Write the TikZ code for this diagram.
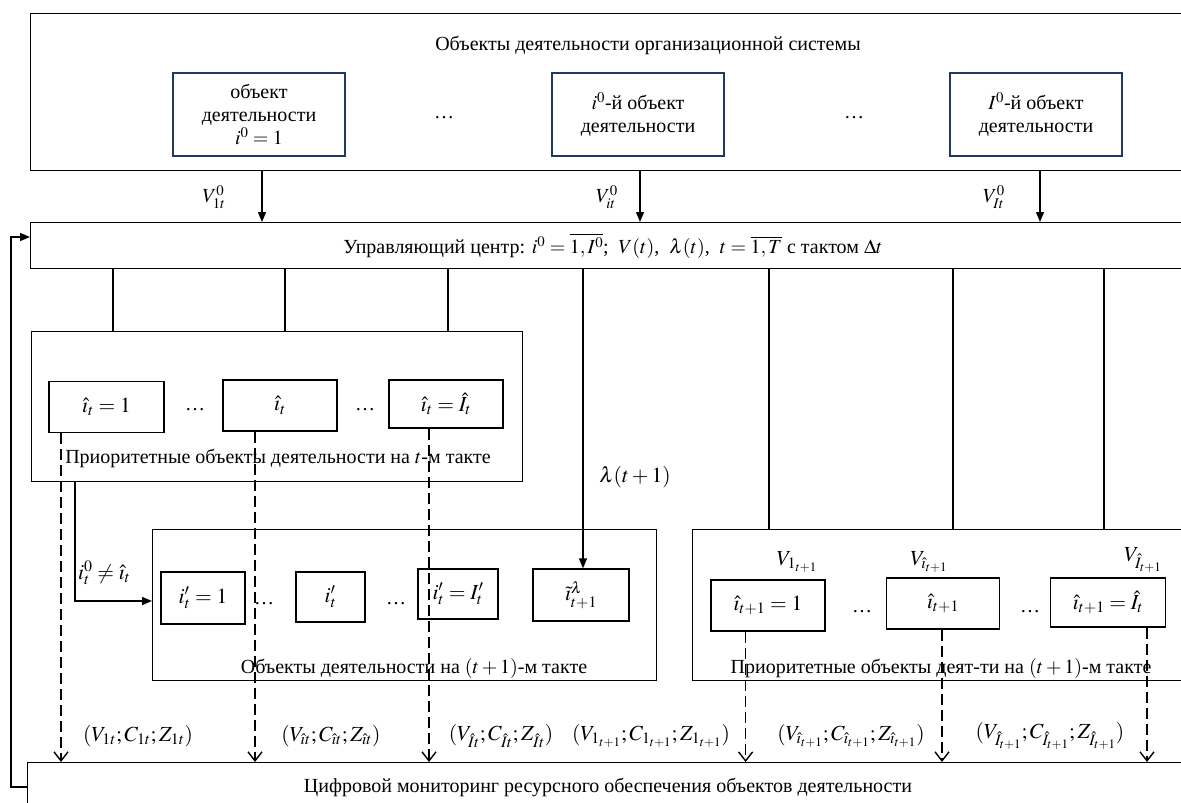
\documentclass[tikz,border=0pt]{standalone}
\usepackage{mathptmx}
\usepackage{fontspec}
\setmainfont{Liberation Serif}
\usetikzlibrary{arrows.meta,calc}
\definecolor{navy}{RGB}{31,56,100}
\begin{document}
\begin{tikzpicture}[x=1pt,y=-1pt,
  every node/.style={font=\fontsize{20}{23}\selectfont, inner sep=0pt},
  ms/.style={font=\fontsize{21.5}{24}\selectfont},
  box/.style={draw, line width=1.4pt, rectangle},
  nbox/.style={draw=navy, line width=1.4pt, rectangle, align=center, minimum width=172pt, minimum height=83pt},
  ibox/.style={draw, line width=1.4pt, rectangle, minimum height=51pt, ms},
  ln/.style={line width=1.4pt},
  arr/.style={line width=1.4pt, -{Triangle[length=10pt,width=8pt]}},
  darr/.style={line width=1.4pt, dash pattern=on 11pt off 5pt, -{Straight Barb[length=9pt,width=14pt]}},
]
\useasboundingbox (0,0) rectangle (1181,803);

% top block
\node[box, anchor=north west, minimum width=1165pt, minimum height=157pt] (top) at (30,13) {};
\node (title) at (648,45) {Объекты деятельности организационной системы};
\node[nbox] (b1) at (259,114.5) {объект\\деятельности\\$i^0=1$};
\node (d1) at (444,118) {\dots};
\node[nbox] (b2) at (638,114.5) {$i^0$-й объект\\деятельности};
\node (d2) at (854,118) {\dots};
\node[nbox] (b3) at (1036,114.5) {$I^0$-й объект\\деятельности};

% control center
\node[box, anchor=north west, minimum width=1165pt, minimum height=46pt] (ctrl) at (30,222) {};
\node (ctrlt) at (613,246) {Управляющий центр: $i^0=\overline{1,I^0}$;\ \ $V(t)$,\ \ $\lambda(t)$,\ \ $t=\overline{1,T}$ с тактом $\Delta t$};

\coordinate (x1) at (262,0);
\coordinate (x2) at (640,0);
\coordinate (x3) at (1040,0);
\draw[arr] (x1 |- top.south) -- (x1 |- ctrl.north);
\draw[arr] (x2 |- top.south) -- (x2 |- ctrl.north);
\draw[arr] (x3 |- top.south) -- (x3 |- ctrl.north);
\node (v1) at (214,197) {$V^0_{1t}$};
\node (v2) at (607,197) {$V^0_{it}$};
\node (v3) at (994,197) {$V^0_{It}$};

% monitoring
\node[box, anchor=north west, minimum width=1168pt, minimum height=55pt] (mon) at (27,762) {};
\node (mont) at (608,787) {Цифровой мониторинг ресурсного обеспечения объектов деятельности};

% feedback
\coordinate (fb) at (11,0);
\coordinate (fy1) at (0,787);
\coordinate (fy2) at (0,237);
\draw[arr] (mon.west |- fy1) -- (fb |- fy1) -- (fb |- fy2) -- (ctrl.west |- fy2);

% priority objects at t
\node[box, anchor=north west, minimum width=491pt, minimum height=150pt] (pr) at (30.6,331) {};
\node[ibox, minimum width=115pt] (pa) at (106.5,407) {$\hat{\imath}_t=1$};
\node (d3) at (195,410) {\dots};
\node[ibox, minimum width=114pt] (pb) at (280,405.5) {$\hat{\imath}_t$};
\node (d4) at (365,410) {\dots};
\node[ibox, minimum width=114pt, minimum height=48pt] (pc) at (446,404) {$\hat{\imath}_t=\hat{I}_t$};
\node (prt) at (278,458) {Приоритетные объекты деятельности на $t$-м такте};

\coordinate (c1) at (113,0);
\coordinate (c2) at (285,0);
\coordinate (c3) at (448,0);
\draw[ln] (c1 |- ctrl.south) -- (c1 |- pr.north);
\draw[ln] (c2 |- ctrl.south) -- (c2 |- pr.north);
\draw[ln] (c3 |- ctrl.south) -- (c3 |- pr.north);

% objects at t+1
\node[box, anchor=north west, minimum width=503.5pt, minimum height=151pt] (ob) at (152,529) {};
\node[ibox, minimum width=84pt, minimum height=52pt] (oa) at (203,598) {$i'_t=1$};
\node (d5) at (264,604) {\dots};
\node[ibox, minimum width=69pt, minimum height=50pt] (oq) at (330.5,597) {$i'_t$};
\node (d6) at (396,604) {\dots};
\node[ibox, minimum width=80pt, minimum height=50pt] (oc) at (458,594) {$i'_t=I'_t$};
\node[ibox, minimum width=96pt, minimum height=52pt] (od) at (581,595) {$\tilde{\imath}^{\lambda}_{t+1}$};
\node (obt) at (414,668) {Объекты деятельности на $(t+1)$-м такте};

\coordinate (cl) at (583,0);
\draw[arr] (cl |- ctrl.south) -- (cl |- od.north);
\node[ms] (lam) at (635,477) {$\lambda(t+1)$};

\coordinate (ca) at (75,0);
\coordinate (cay) at (0,601);
\draw[arr] (ca |- pr.south) -- (ca |- cay) -- (ob.west |- cay);
\node[ms, anchor=west] (neq) at (78,573) {$i^0_t\neq\hat{\imath}_t$};

% priority objects at t+1
\node[box, anchor=north west, minimum width=503pt, minimum height=151pt] (rb) at (692,529) {};
\node[ibox, minimum width=114pt] (ra) at (768,605.5) {$\hat{\imath}_{t+1}=1$};
\node (d7) at (862,612) {\dots};
\node[ibox, minimum width=113pt] (rq) at (943,603.5) {$\hat{\imath}_{t+1}$};
\node (d8) at (1030,612) {\dots};
\node[ibox, minimum width=115pt, minimum height=49pt] (rc) at (1108,602.5) {$\hat{\imath}_{t+1}=\hat{I}_t$};
\node (rbt) at (941,668) {Приоритетные объекты деят-ти на $(t+1)$-м такте};
\node[ms] (va) at (797,562) {$V_{1_{t+1}}$};
\node[ms] (vb) at (929,562) {$V_{\hat{\imath}_{t+1}}$};
\node[ms] (vc) at (1143,560) {$V_{\hat{I}_{t+1}}$};

\coordinate (r1) at (769,0);
\coordinate (r2) at (953,0);
\coordinate (r3) at (1104,0);
\draw[ln] (r1 |- ctrl.south) -- (r1 |- rb.north);
\draw[ln] (r2 |- ctrl.south) -- (r2 |- rb.north);
\draw[ln] (r3 |- ctrl.south) -- (r3 |- rb.north);

% dashed arrows to monitoring
\coordinate (dl1) at (61,0);
\coordinate (dl2) at (255,0);
\coordinate (dl3) at (429,0);
\coordinate (dr1) at (745.6,0);
\coordinate (dr2) at (942,0);
\coordinate (dr3) at (1147,0);
\draw[darr] (dl1 |- pa.south) -- (dl1 |- mon.north);
\draw[darr] (dl2 |- pb.south) -- (dl2 |- mon.north);
\draw[darr] (dl3 |- pc.south) -- (dl3 |- mon.north);
\draw[darr] (dr1 |- ra.south) -- (dr1 |- mon.north);
\draw[darr] (dr2 |- rq.south) -- (dr2 |- mon.north);
\draw[darr] (dr3 |- rc.south) -- (dr3 |- mon.north);

% data labels
\node[ms] (m1) at (138,736) {$(V_{1t};C_{1t};Z_{1t})$};
\node[ms] (m2) at (331,736) {$(V_{\hat{\imath}t};C_{\hat{\imath}t};Z_{\hat{\imath}t})$};
\node[ms] (m3) at (501,736) {$(V_{\hat{I}t};C_{\hat{I}t};Z_{\hat{I}t})$};
\node[ms] (m4) at (651,736) {$(V_{1_{t+1}};C_{1_{t+1}};Z_{1_{t+1}})$};
\node[ms] (m5) at (851,736) {$(V_{\hat{\imath}_{t+1}};C_{\hat{\imath}_{t+1}};Z_{\hat{\imath}_{t+1}})$};
\node[ms] (m6) at (1050,736) {$(V_{\hat{I}_{t+1}};C_{\hat{I}_{t+1}};Z_{\hat{I}_{t+1}})$};
\end{tikzpicture}
\end{document}
